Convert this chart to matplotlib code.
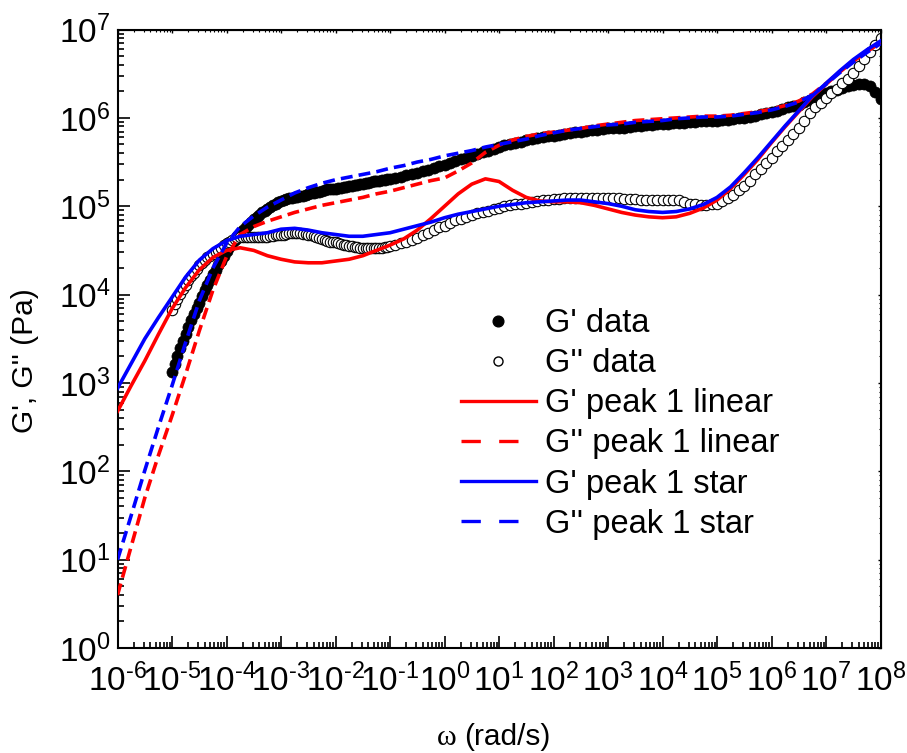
import numpy as np
import matplotlib
matplotlib.use('Agg')
import matplotlib.pyplot as plt
from matplotlib.ticker import LogLocator, FuncFormatter, NullFormatter
from matplotlib.lines import Line2D

plt.rcParams['font.family'] = ['Liberation Sans', 'DejaVu Sans']
plt.rcParams['mathtext.fontset'] = 'custom'
plt.rcParams['mathtext.rm'] = 'Liberation Sans'
plt.rcParams['mathtext.it'] = 'Liberation Sans:italic'
plt.rcParams['mathtext.bf'] = 'Liberation Sans:bold'

# measured moduli, log10(omega) and log10(G)
log_w_data = [
    -5.0, -4.95, -4.9, -4.85, -4.8, -4.75, -4.7, -4.65, -4.6, -4.55,
    -4.5, -4.45, -4.4, -4.35, -4.3, -4.25, -4.2, -4.15, -4.1, -4.05,
    -4.0, -3.95, -3.9, -3.85, -3.8, -3.75, -3.7, -3.65, -3.6, -3.55,
    -3.5, -3.45, -3.4, -3.35, -3.3, -3.25, -3.2, -3.15, -3.1, -3.05,
    -3.0, -2.95, -2.9, -2.85, -2.8, -2.75, -2.7, -2.65, -2.6, -2.55,
    -2.5, -2.45, -2.4, -2.35, -2.3, -2.25, -2.2, -2.15, -2.1, -2.05,
    -2.0, -1.95, -1.9, -1.85, -1.8, -1.75, -1.7, -1.65, -1.6, -1.55,
    -1.5, -1.45, -1.4, -1.35, -1.3, -1.25, -1.2, -1.15, -1.1, -1.05,
    -1.0, -0.9, -0.8, -0.7, -0.6, -0.5, -0.4, -0.3, -0.2, -0.1,
    0.0, 0.1, 0.2, 0.3, 0.4, 0.5, 0.6, 0.7, 0.8, 0.9,
    1.0, 1.1, 1.2, 1.3, 1.4, 1.5, 1.6, 1.7, 1.8, 1.9,
    2.0, 2.1, 2.2, 2.3, 2.4, 2.5, 2.6, 2.7, 2.8, 2.9,
    3.0, 3.1, 3.2, 3.3, 3.4, 3.5, 3.6, 3.7, 3.8, 3.9,
    4.0, 4.1, 4.2, 4.3, 4.4, 4.5, 4.6, 4.7, 4.8, 4.9,
    5.0, 5.1, 5.2, 5.3, 5.4, 5.5, 5.6, 5.7, 5.8, 5.9,
    6.0, 6.1, 6.2, 6.3, 6.4, 6.5, 6.6, 6.7, 6.8, 6.9,
    7.0, 7.1, 7.2, 7.3, 7.4, 7.5, 7.6, 7.7, 7.8, 7.9,
    8.0,
]
log_g1_data = [
    3.12, 3.21, 3.30, 3.39, 3.47, 3.55, 3.63, 3.71, 3.78, 3.85,
    3.91, 3.98, 4.05, 4.11, 4.17, 4.23, 4.28, 4.33, 4.38, 4.44,
    4.49, 4.54, 4.58, 4.62, 4.66, 4.70, 4.73, 4.76, 4.79, 4.82,
    4.85, 4.88, 4.90, 4.93, 4.95, 4.97, 4.99, 5.01, 5.03, 5.05,
    5.06, 5.07, 5.08, 5.09, 5.09, 5.10, 5.11, 5.12, 5.12, 5.13,
    5.14, 5.15, 5.15, 5.16, 5.16, 5.17, 5.18, 5.19, 5.19, 5.20,
    5.20, 5.21, 5.21, 5.22, 5.22, 5.23, 5.23, 5.24, 5.24, 5.25,
    5.25, 5.26, 5.26, 5.27, 5.28, 5.29, 5.29, 5.30, 5.30, 5.31,
    5.31, 5.32, 5.33, 5.35, 5.37, 5.38, 5.40, 5.41, 5.43, 5.45,
    5.47, 5.49, 5.51, 5.53, 5.55, 5.57, 5.59, 5.61, 5.63, 5.65,
    5.67, 5.69, 5.70, 5.72, 5.73, 5.75, 5.76, 5.77, 5.78, 5.79,
    5.80, 5.81, 5.82, 5.83, 5.84, 5.84, 5.85, 5.86, 5.86, 5.87,
    5.88, 5.88, 5.89, 5.89, 5.90, 5.91, 5.91, 5.92, 5.92, 5.93,
    5.93, 5.93, 5.94, 5.94, 5.94, 5.95, 5.95, 5.96, 5.96, 5.97,
    5.97, 5.98, 5.98, 5.99, 6.00, 6.00, 6.01, 6.02, 6.04, 6.05,
    6.07, 6.08, 6.10, 6.12, 6.13, 6.15, 6.18, 6.20, 6.23, 6.26,
    6.28, 6.30, 6.32, 6.34, 6.36, 6.37, 6.38, 6.38, 6.36, 6.29,
    6.21,
]
log_g2_data = [
    3.82, 3.89, 3.95, 4.01, 4.06, 4.11, 4.16, 4.21, 4.25, 4.29,
    4.33, 4.36, 4.39, 4.42, 4.44, 4.46, 4.48, 4.51, 4.53, 4.56,
    4.58, 4.60, 4.62, 4.63, 4.64, 4.65, 4.65, 4.65, 4.65, 4.65,
    4.65, 4.65, 4.65, 4.65, 4.65, 4.65, 4.66, 4.66, 4.67, 4.67,
    4.68, 4.68, 4.69, 4.70, 4.70, 4.70, 4.70, 4.70, 4.69, 4.69,
    4.68, 4.67, 4.66, 4.65, 4.64, 4.63, 4.62, 4.61, 4.60, 4.59,
    4.59, 4.58, 4.57, 4.56, 4.56, 4.55, 4.55, 4.54, 4.54, 4.53,
    4.53, 4.53, 4.53, 4.53, 4.53, 4.53, 4.53, 4.53, 4.54, 4.54,
    4.55, 4.56, 4.58, 4.60, 4.62, 4.64, 4.67, 4.70, 4.73, 4.76,
    4.78, 4.81, 4.84, 4.86, 4.88, 4.90, 4.92, 4.93, 4.95, 4.97,
    4.98, 5.00, 5.01, 5.02, 5.03, 5.04, 5.05, 5.06, 5.07, 5.07,
    5.08, 5.08, 5.09, 5.09, 5.09, 5.09, 5.09, 5.09, 5.09, 5.09,
    5.09, 5.09, 5.09, 5.08, 5.08, 5.08, 5.07, 5.07, 5.07, 5.07,
    5.07, 5.07, 5.07, 5.07, 5.05, 5.03, 5.02, 5.01, 5.01, 5.02,
    5.03, 5.06, 5.09, 5.13, 5.18, 5.23, 5.29, 5.36, 5.42, 5.49,
    5.55, 5.62, 5.68, 5.75, 5.82, 5.89, 5.97, 6.05, 6.12, 6.17,
    6.22, 6.28, 6.33, 6.39, 6.44, 6.51, 6.59, 6.67, 6.75, 6.83,
    6.90,
]

# model curves (peak 1, linear and star), log10 values
log_w_fit = [
    -6.0, -5.75, -5.5, -5.25, -5.0, -4.75, -4.5, -4.25, -4.0, -3.75,
    -3.5, -3.25, -3.0, -2.75, -2.5, -2.25, -2.0, -1.75, -1.5, -1.25,
    -1.0, -0.75, -0.5, -0.25, 0.0, 0.25, 0.5, 0.75, 1.0, 1.25,
    1.5, 1.75, 2.0, 2.25, 2.5, 2.75, 3.0, 3.25, 3.5, 3.75,
    4.0, 4.25, 4.5, 4.75, 5.0, 5.25, 5.5, 5.75, 6.0, 6.25,
    6.5, 6.75, 7.0, 7.25, 7.5, 7.75, 8.0,
]
log_g1_linear = [
    2.68, 2.97, 3.25, 3.55, 3.84, 4.08, 4.28, 4.42, 4.50, 4.53,
    4.50, 4.44, 4.40, 4.37, 4.36, 4.36, 4.38, 4.40, 4.44, 4.50,
    4.56, 4.63, 4.73, 4.86, 5.00, 5.14, 5.25, 5.31, 5.28, 5.18,
    5.10, 5.06, 5.05, 5.05, 5.04, 5.01, 4.97, 4.93, 4.90, 4.88,
    4.87, 4.88, 4.92, 4.98, 5.07, 5.20, 5.36, 5.53, 5.72, 5.90,
    6.07, 6.24, 6.38, 6.52, 6.65, 6.76, 6.86,
]
log_g2_linear = [
    0.60, 1.15, 1.70, 2.18, 2.63, 3.10, 3.59, 4.05, 4.43, 4.68,
    4.77, 4.83, 4.88, 4.93, 4.97, 5.01, 5.04, 5.07, 5.10, 5.14,
    5.17, 5.21, 5.25, 5.29, 5.32, 5.40, 5.49, 5.61, 5.69, 5.75,
    5.79, 5.82, 5.84, 5.86, 5.88, 5.91, 5.93, 5.95, 5.97, 5.98,
    5.99, 6.00, 6.01, 6.02, 6.02, 6.03, 6.05, 6.07, 6.10, 6.14,
    6.19, 6.27, 6.39, 6.52, 6.64, 6.75, 6.85,
]
log_g1_star = [
    2.94, 3.22, 3.50, 3.74, 3.97, 4.20, 4.39, 4.52, 4.61, 4.66,
    4.68, 4.70, 4.74, 4.75, 4.73, 4.70, 4.68, 4.66, 4.66, 4.68,
    4.70, 4.74, 4.78, 4.82, 4.87, 4.91, 4.94, 4.97, 5.00, 5.02,
    5.04, 5.05, 5.06, 5.07, 5.07, 5.05, 5.03, 5.00, 4.96, 4.94,
    4.93, 4.94, 4.97, 5.02, 5.10, 5.22, 5.38, 5.55, 5.73, 5.91,
    6.08, 6.25, 6.39, 6.53, 6.66, 6.77, 6.87,
]
log_g2_star = [
    1.00, 1.50, 2.01, 2.50, 2.97, 3.46, 3.93, 4.30, 4.58, 4.77,
    4.89, 4.99, 5.07, 5.15, 5.21, 5.26, 5.30, 5.33, 5.36, 5.39,
    5.43, 5.46, 5.50, 5.53, 5.57, 5.60, 5.63, 5.67, 5.70, 5.73,
    5.76, 5.80, 5.83, 5.86, 5.88, 5.90, 5.92, 5.93, 5.95, 5.96,
    5.97, 5.99, 6.00, 6.01, 6.01, 6.02, 6.04, 6.06, 6.09, 6.13,
    6.18, 6.26, 6.38, 6.51, 6.63, 6.74, 6.84,
]

labels = ["G' data", "G'' data", "G' peak 1 linear", "G'' peak 1 linear",
          "G' peak 1 star", "G'' peak 1 star"]

w_data = 10.0 ** np.array(log_w_data)
w_fit = 10.0 ** np.array(log_w_fit)

fig = plt.figure(figsize=(9.07, 7.53), dpi=100)
ax = fig.add_axes([0.1296, 0.1394, 0.8412, 0.8214])

lw = 2.6
dash = (3.3, 1.7)

ax.plot(w_data, 10.0 ** np.array(log_g1_data), 'o', ms=8.0,
        mfc='black', mec='black', mew=0.5, zorder=2)
ax.plot(w_data, 10.0 ** np.array(log_g2_data), 'o', ms=7.5,
        mfc='white', mec='black', mew=0.8, zorder=2)
ax.plot(w_fit, 10.0 ** np.array(log_g1_linear), color='red', lw=lw, zorder=3)
ax.plot(w_fit, 10.0 ** np.array(log_g2_linear), color='red', lw=lw,
        dashes=dash, zorder=3)
ax.plot(w_fit, 10.0 ** np.array(log_g1_star), color='blue', lw=lw, zorder=4)
ax.plot(w_fit, 10.0 ** np.array(log_g2_star), color='blue', lw=lw,
        dashes=dash, zorder=4)

ax.set_xscale('log')
ax.set_yscale('log')
ax.set_xlim(1e-6, 1e8)
ax.set_ylim(1e0, 1e7)


def pow_label(v, pos):
    e = int(round(np.log10(v)))
    return r'$\mathregular{10^{%s}}$' % str(e).replace('-', '\u2010')


for axis in (ax.xaxis, ax.yaxis):
    axis.set_major_locator(LogLocator(base=10, numticks=30))
    axis.set_minor_locator(LogLocator(base=10, subs=np.arange(2, 10), numticks=30))
    axis.set_major_formatter(FuncFormatter(pow_label))
    axis.set_minor_formatter(NullFormatter())

ax.tick_params(which='both', direction='in', width=1.2, labelsize=24)
ax.tick_params(which='major', length=8.6)
ax.tick_params(which='minor', length=4.3)
ax.tick_params(axis='x', pad=11)
ax.tick_params(axis='y', pad=5)
for sp in ax.spines.values():
    sp.set_linewidth(1.5)

# small inward ticks on the top and right frame
top = ax.secondary_xaxis('top')
right = ax.secondary_yaxis('right')
for sec, axis in ((top, top.xaxis), (right, right.yaxis)):
    axis.set_major_locator(LogLocator(base=10, numticks=30))
    axis.set_minor_locator(LogLocator(base=10, subs=np.arange(2, 10), numticks=30))
    axis.set_major_formatter(NullFormatter())
    axis.set_minor_formatter(NullFormatter())
    sec.tick_params(which='major', direction='in', length=2.5, width=1.0)
    sec.tick_params(which='minor', direction='in', length=1.5, width=0.8)

xl = ax.set_xlabel('(rad/s)', fontsize=21.5)
ax.xaxis.set_label_coords(0.511, -0.122)
ax.annotate('\u03c9 ', xy=(0, 0.22), xycoords=xl, ha='right', va='baseline',
            fontsize=21.5, family='Liberation Serif')
ax.set_ylabel("G', G'' (Pa)", fontsize=21.5)
ax.yaxis.set_label_coords(-0.103, 0.464)

ls_leg = (5.8, 5.5)
handles = [
    Line2D([], [], ls='none', marker='o', ms=7.7, mfc='black', mec='black'),
    Line2D([], [], ls='none', marker='o', ms=6.5, mfc='white', mec='black', mew=1.0),
    Line2D([], [], color='red', lw=2.4),
    Line2D([], [], color='red', lw=2.4, dashes=ls_leg),
    Line2D([], [], color='blue', lw=2.4),
    Line2D([], [], color='blue', lw=2.4, dashes=ls_leg),
]
ax.legend(handles, labels, loc='upper left', bbox_to_anchor=(460.7 / 907, 1 - 308 / 753),
          bbox_transform=fig.transFigure, frameon=False, fontsize=23.5,
          handlelength=2.3, handletextpad=0.29, labelspacing=0.28,
          borderpad=0, borderaxespad=0)

fig.savefig('out.png', dpi=100)
